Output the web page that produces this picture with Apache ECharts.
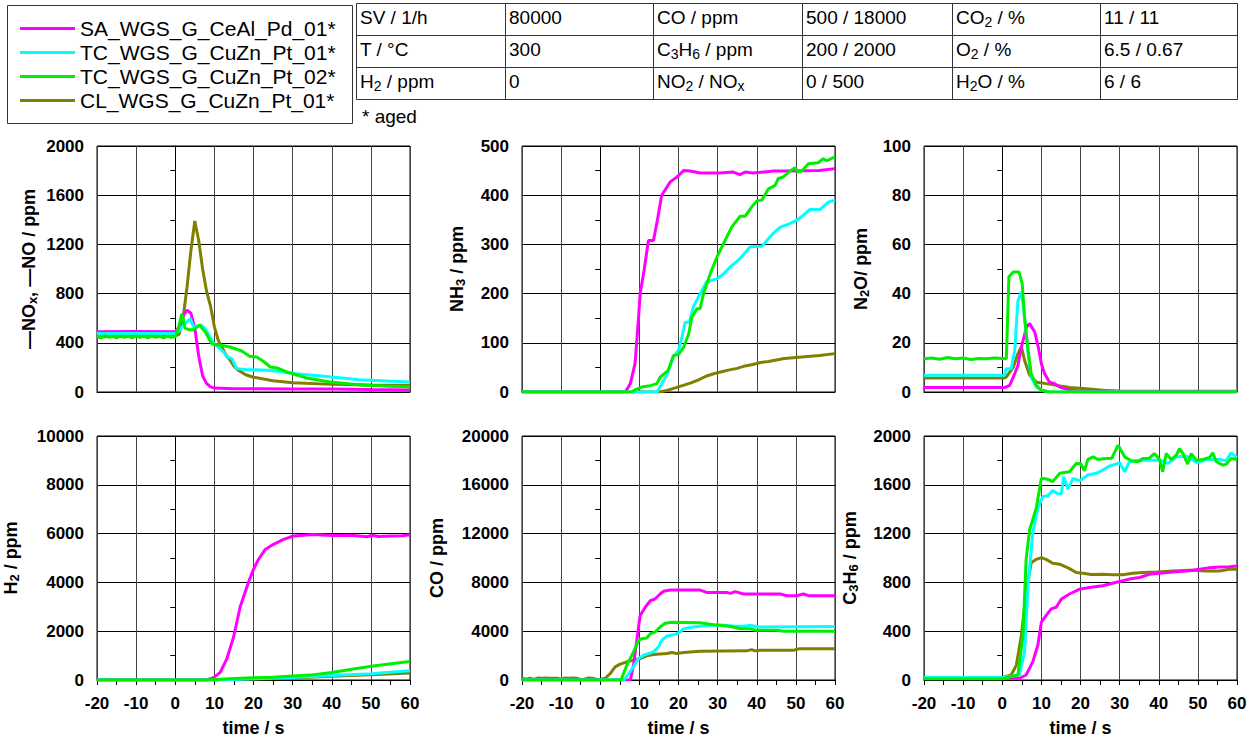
<!DOCTYPE html>
<html>
<head>
<meta charset="utf-8">
<title>WGS catalysts - transient test</title>
<script src="https://cdn.jsdelivr.net/npm/echarts@6.0.0/dist/echarts.min.js"></script>
<style>
  html, body { margin: 0; padding: 0; background: #fff; }
  #chart { width: 1257px; height: 738px; }
</style>
</head>
<body>
<div id="chart"></div>
<script>
const FONT = "'Liberation Sans', Arial, sans-serif"

const seriesNames = ['SA_WGS_G_CeAl_Pd_01*', 'TC_WGS_G_CuZn_Pt_01*', 'TC_WGS_G_CuZn_Pt_02*', 'CL_WGS_G_CuZn_Pt_01*']
const seriesColors = ['#ff00ff', '#00ffff', '#00ee00', '#808000']

// time / s, value  -- NOx panel
const noxSA = [[-20, 490], [-10, 492], [0, 490], [1, 530], [2, 620], [3, 665], [4, 640], [5, 520], [6, 290], [7, 130], [8, 70], [9, 42], [10, 32], [15, 27], [20, 26], [30, 25], [40, 24], [50, 20], [60, 17]]
const noxTC1 = [[-20, 475], [0, 475], [1, 500], [2, 540], [3, 570], [3.8, 596], [4.7, 530], [5.5, 535], [6.5, 545], [7.5, 520], [8.5, 470], [9.8, 395], [11.5, 352], [12.5, 320], [13.2, 285], [14.5, 271], [15.7, 190], [18, 182], [24, 176], [31, 149], [40, 122], [47, 100], [54, 90], [60, 81]]
const noxTC2 = [[-20, 450], [-19, 440], [-18, 460], [-17, 445], [-16, 455], [-15, 440], [-14, 458], [-13, 445], [-12, 455], [-11, 440], [-10, 458], [-9, 445], [-8, 455], [-7, 440], [-6, 458], [-5, 445], [-4, 455], [-3, 440], [-2, 455], [-1, 445], [0, 450], [0.8, 520], [1.7, 637], [2.5, 520], [3.5, 507], [4.7, 507], [6.2, 542], [7.7, 488], [9.3, 393], [11.5, 380], [14, 366], [17, 333], [19, 290], [20.8, 285], [22.5, 250], [24.3, 203], [26, 195], [28.5, 163], [33.6, 114], [39.6, 81], [48, 54], [60, 41]]
const noxCL = [[-20, 450], [0, 455], [1, 470], [2, 600], [3, 850], [4, 1150], [5, 1390], [6, 1230], [7, 1000], [8, 820], [9, 700], [10, 530], [11, 420], [12, 360], [13, 300], [14, 260], [15, 210], [16, 180], [18, 140], [20, 120], [25, 92], [30, 75], [40, 62], [50, 56], [60, 52]]

// NH3 panel
const nh3SA = [[-20, 0], [6.4, 0], [7.7, 17], [8.9, 58], [9.8, 152], [10.2, 200], [11.2, 247], [12.3, 308], [13.6, 308], [14.6, 349], [15.7, 400], [17.9, 427], [19.6, 437], [21.3, 450], [23, 449], [25.5, 445], [30.6, 445], [34, 447], [35.7, 442], [37, 447], [39, 445], [44.3, 449], [47.7, 449], [56, 450], [60, 454]]
const nh3TC1 = [[-20, 0], [14.5, 0], [17, 34], [18.7, 71], [20, 85], [20.9, 112], [21.7, 142], [22.8, 142], [23.8, 173], [25.1, 193], [27.2, 224], [29.8, 230], [31.5, 240], [33.6, 257], [35.7, 271], [38.3, 295], [41.3, 296], [42.6, 308], [44.3, 323], [46, 335], [48.1, 341], [50.2, 349], [51.9, 359], [53.6, 371], [56.2, 371], [58.3, 386], [60, 390]]
const nh3TC2 = [[-20, 0], [8, 0], [9, 5], [10.6, 10], [12.8, 13], [14.5, 17], [15.3, 30], [17.4, 44], [18.7, 74], [20, 76], [21.3, 91], [22.6, 118], [23.4, 152], [24.7, 169], [25.5, 169], [26.4, 200], [28.1, 240], [29.8, 274], [31.9, 308], [33.6, 335], [35.7, 357], [37, 357], [38.7, 376], [40, 388], [41.3, 390], [43, 413], [44.7, 420], [45.5, 434], [46.8, 437], [48.5, 449], [49.8, 456], [50.5, 447], [51.5, 449], [53.2, 464], [55.7, 466], [57, 474], [57.9, 470], [60, 478]]
const nh3CL = [[-20, 0], [15, 0], [17, 3], [19, 8], [21, 13], [23, 18], [25, 24], [27, 32], [29, 37], [31, 41], [33, 45], [35, 48], [37, 53], [39, 56], [41, 60], [43, 62], [45, 65], [47, 68], [50, 70], [53, 72], [56, 74], [60, 78]]

// N2O panel
const n2oSA = [[-20, 1.8], [-10, 1.8], [0.6, 1.8], [1.9, 2.7], [3.2, 7.5], [4, 10.8], [4.9, 18.3], [6.2, 26.4], [7, 27.8], [8.3, 24.4], [9.2, 18.3], [10, 11.5], [10.8, 7.5], [12.1, 4], [13.4, 3.4], [14.7, 2], [17.3, 0.7], [20, 0.3], [60, 0.3]]
const n2oTC1 = [[-20, 6.8], [0.6, 6.8], [1, 9.5], [2.3, 9.5], [3.2, 17], [4, 37], [4.9, 40.7], [5.7, 30.5], [6.6, 15.6], [7.4, 6], [8.7, 2], [10, 0.7], [12, 0], [60, 0]]
const n2oTC2 = [[-20, 13.5], [-18, 13.8], [-16, 13.3], [-14, 14], [-12, 13.5], [-10, 13.8], [-8, 13.2], [-6, 13.6], [-4, 13.5], [-2, 13.8], [1.05, 13.5], [1.7, 46.8], [2.8, 48.8], [4.3, 48.8], [5.1, 44], [5.7, 30.5], [6.6, 17], [7.4, 7.5], [8.7, 2.7], [10, 0.7], [12, 0], [60, 0]]
const n2oCL = [[-20, 5.7], [0.6, 5.7], [1, 6], [2.8, 10], [4, 15.6], [4.9, 18.3], [5.7, 12.9], [7, 6.8], [8.7, 4], [11.3, 3.4], [13.8, 2.7], [17.3, 1.8], [20.7, 1.4], [25.8, 0.7], [30, 0.3], [60, 0.2]]

// H2 panel
const h2SA = [[-20, 0], [8, 0], [9.8, 95], [11.5, 312], [13.2, 880], [14.9, 1750], [16.6, 3000], [18.7, 4000], [20, 4540], [21.3, 4950], [23, 5350], [25.1, 5560], [27.7, 5760], [30.2, 5900], [32.8, 5935], [35.3, 5960], [40.4, 5920], [44.7, 5930], [47, 5900], [49, 5870], [50.5, 5930], [52, 5880], [55, 5900], [58, 5910], [60, 5950]]
const h2TC1 = [[-20, 0], [10, 0], [20, 50], [30, 100], [40, 180], [50, 260], [60, 380]]
const h2TC2 = [[-20, 0], [8, 0], [15, 60], [20, 90], [25, 110], [30, 160], [34.5, 200], [40, 310], [45.5, 450], [50.6, 570], [55.7, 680], [60, 760]]
const h2CL = [[-20, 0], [10, 0], [20, 40], [30, 80], [40, 150], [50, 220], [60, 290]]

// CO panel
const coSA = [[-20, 0], [7.7, 0], [8.5, 1220], [9.4, 3390], [10.2, 5290], [11.5, 5960], [12.8, 6500], [14, 6640], [15.3, 7050], [16.2, 7270], [17.9, 7370], [25.5, 7370], [27.2, 7180], [32.3, 7180], [33.2, 7100], [34.5, 7240], [36.6, 7050], [46, 7050], [47.7, 6910], [50.2, 6910], [51.9, 7050], [53.2, 6910], [60, 6910]]
const coTC1 = [[-20, 0], [6, 0], [7, 400], [8.5, 1100], [9.8, 1760], [11.1, 2030], [13.6, 2300], [14.9, 2710], [15.7, 3250], [17, 3600], [19.1, 3740], [20.4, 3930], [21.3, 4200], [23.8, 4340], [27.2, 4470], [29.8, 4530], [34, 4420], [36.6, 4400], [38.3, 4470], [40.9, 4340], [60, 4390]]
const coTC2 = [[-20, 0], [5.3, 0], [6.8, 1220], [8.5, 2300], [9.8, 3250], [10.6, 3390], [11.9, 3440], [12.8, 3800], [14, 3930], [15.3, 4340], [16.6, 4660], [18.3, 4740], [25.5, 4690], [28.9, 4530], [32.3, 4420], [34, 4340], [35.7, 4200], [38.3, 4200], [40, 4070], [45.1, 4070], [46.8, 3990], [60, 3990]]
const coCL = [[-20, 150], [-19, 60], [-18, 150], [-17, 40], [-16, 160], [-15, 150], [-14, 160], [-13, 150], [-12, 150], [-11, 140], [-10, 60], [-9, 160], [-8, 150], [-7, 160], [-6, 150], [-5, 40], [-4, 60], [-3, 160], [-2, 150], [-1, 60], [0, 50], [1.3, 140], [2.6, 540], [3.8, 1080], [5.1, 1300], [6.8, 1490], [8.5, 1630], [10.2, 1760], [11.9, 1980], [13.6, 2090], [17, 2170], [18.3, 2250], [19.5, 2170], [21.3, 2250], [25.5, 2360], [37.4, 2390], [38.7, 2490], [39.6, 2390], [40.9, 2440], [49.4, 2440], [51, 2570], [60, 2570]]

// C3H6 panel
const c3h6SA = [[-20, 20], [0, 20], [4.4, 14], [6.1, 41], [7.8, 149], [9.1, 285], [10, 474], [11.2, 528], [12.5, 583], [13.8, 596], [15.1, 664], [17.2, 705], [19.8, 745], [22.3, 759], [25.7, 772], [27.9, 791], [30, 808], [32.5, 827], [35.1, 840], [37.6, 867], [40.2, 875], [43.6, 886], [47, 894], [50.4, 908], [53, 921], [55.5, 927], [58.1, 929], [60, 935]]
const c3h6TC1 = [[-20, 20], [0, 20], [4.4, 41], [5.7, 230], [6.6, 772], [7.8, 1206], [9.1, 1409], [10.4, 1504], [11.7, 1510], [12.9, 1553], [14.2, 1526], [15.1, 1526], [15.7, 1667], [16.8, 1564], [18.1, 1653], [19.8, 1634], [21.9, 1680], [24, 1694], [25.7, 1721], [27.4, 1753], [30, 1780], [31.3, 1707], [32.5, 1789], [35.1, 1802], [40.2, 1802], [42.3, 1775], [44.5, 1829], [47, 1835], [50, 1780], [52.1, 1808], [55.5, 1808], [57.2, 1797], [58.5, 1862], [60, 1824]]
const c3h6TC2 = [[-20, 10], [0, 10], [4, 41], [5.3, 366], [6.1, 989], [7, 1233], [8.7, 1409], [10, 1653], [11.7, 1645], [12.9, 1626], [14.7, 1694], [17.2, 1707], [18.9, 1775], [20, 1775], [21, 1715], [21.9, 1808], [23.2, 1829], [24.4, 1808], [26.6, 1816], [28, 1818], [29.6, 1924], [31.3, 1829], [33, 1797], [34.7, 1789], [35.9, 1816], [37.5, 1816], [38.9, 1856], [40.2, 1808], [41, 1707], [41.9, 1856], [43.2, 1808], [44.5, 1843], [45.3, 1897], [46.2, 1856], [47.4, 1770], [48.3, 1856], [49.6, 1802], [51.3, 1808], [53, 1824], [53.8, 1862], [54.7, 1789], [56.4, 1761], [57.3, 1770], [58.5, 1816], [60, 1808]]
const c3h6CL = [[-20, 20], [0, 20], [2.3, 41], [3.6, 122], [4.9, 366], [6.1, 718], [7.4, 962], [8.7, 989], [10, 1003], [11.2, 989], [12.9, 957], [14.7, 949], [17.2, 913], [18.9, 881], [20.6, 875], [22.7, 865], [25.7, 867], [28.3, 862], [30.8, 862], [33.4, 875], [35.9, 881], [39.4, 886], [43.6, 894], [47.9, 900], [52.1, 894], [55.5, 894], [58.1, 908], [60, 908]]

const yNames = [
  '\u2014NO{sub|x}, \u2014NO / ppm',
  'NH{sub|3} / ppm',
  'N{sub|2}O/ ppm',
  'H{sub|2} / ppm',
  'CO / ppm',
  'C{sub|3}H{sub|6} / ppm'
]
const yMax = [2000, 500, 100, 10000, 20000, 2000]
const yInterval = [400, 100, 20, 2000, 4000, 400]
const panelData = [
  [noxSA, noxTC1, noxTC2, noxCL],
  [nh3SA, nh3TC1, nh3TC2, nh3CL],
  [n2oSA, n2oTC1, n2oTC2, n2oCL],
  [h2SA, h2TC1, h2TC2, h2CL],
  [coSA, coTC1, coTC2, coCL],
  [c3h6SA, c3h6TC1, c3h6TC2, c3h6CL]
]
const xTicks = { min: -20, max: 60, interval: 10 }

// conditions table
const tableText = [
  ['SV / 1/h', '80000', 'CO / ppm', '500 / 18000', 'CO{sub|2} / %', '11 / 11'],
  ['T / \u00b0C', '300', 'C{sub|3}H{sub|6} / ppm', '200 / 2000', 'O{sub|2} / %', '6.5 / 0.67'],
  ['H{sub|2} / ppm', '0', 'NO{sub|2} / NO{sub|x}', '0 / 500', 'H{sub|2}O / %', '6 / 6']
]

const gridLeft = [97, 522, 924]
const gridTop = [146, 436]
const gridW = 313
const gridH = 246
const nameGaps = [58, 55, 53, 76, 76, 64]
const drawOrder = [3, 0, 1, 2]

const chart = echarts.init(document.getElementById('chart'), null, { renderer: 'svg' })

const labelFont = { fontSize: 17, fontWeight: 'bold', fontFamily: FONT, color: '#000' }
const plain = v => String(v)

const grids = []
const xAxes = []
const yAxes = []
const series = []

for (let p = 0; p < 6; p++) {
  const row = Math.floor(p / 3)
  const col = p % 3
  grids.push({
    left: gridLeft[col],
    top: gridTop[row],
    width: gridW,
    height: gridH,
    show: true,
    borderColor: '#000',
    borderWidth: 1
  })
  xAxes.push({
    gridIndex: p,
    type: 'value',
    min: xTicks.min,
    max: xTicks.max,
    interval: xTicks.interval,
    name: row === 1 ? 'time / s' : '',
    nameLocation: 'middle',
    nameGap: 39,
    nameTextStyle: { fontSize: 18, fontWeight: 'bold', fontFamily: FONT, color: '#000' },
    axisLine: { lineStyle: { color: '#000', width: 1 } },
    axisTick: { show: row === 1, length: 5, lineStyle: { color: '#000' } },
    minorTick: { show: row === 1, splitNumber: 2, length: 5, lineStyle: { color: '#000' } },
    axisLabel: Object.assign({ show: row === 1, margin: 15, formatter: plain }, labelFont),
    splitLine: { show: true, lineStyle: { color: '#444', width: 1 } }
  })
  yAxes.push({
    gridIndex: p,
    type: 'value',
    min: 0,
    max: yMax[p],
    interval: yInterval[p],
    name: yNames[p],
    nameLocation: 'middle',
    nameRotate: 90,
    nameGap: nameGaps[p],
    nameTextStyle: {
      fontSize: 18,
      fontWeight: 'bold',
      fontFamily: FONT,
      color: '#000',
      rich: {
        sub: { fontSize: 13, fontWeight: 'bold', fontFamily: FONT, color: '#000', padding: [8, 0, 0, 0] }
      }
    },
    axisLine: { show: true, lineStyle: { color: '#000', width: 1 } },
    axisTick: { show: true, length: 5, lineStyle: { color: '#000' } },
    minorTick: { show: true, splitNumber: 2, length: 5, lineStyle: { color: '#000' } },
    axisLabel: Object.assign({ margin: 13, formatter: plain }, labelFont),
    splitLine: { show: true, lineStyle: { color: '#000', width: 1 } }
  })
  drawOrder.forEach(s => {
    series.push({
      name: seriesNames[s],
      type: 'line',
      xAxisIndex: p,
      yAxisIndex: p,
      data: panelData[p][s],
      showSymbol: false,
      symbol: 'none',
      color: seriesColors[s],
      lineStyle: { color: seriesColors[s], width: 3 },
      animation: false,
      silent: true
    })
  })
}

// table cells and box around the legend
const colX = [356, 505, 653, 802, 952, 1100, 1237]
const rowY = [3, 35, 67, 99]
const graphics = [{
  type: 'rect',
  shape: { x: 7.5, y: 5.5, width: 345, height: 118 },
  style: { fill: 'none', stroke: '#333', lineWidth: 1 }
}]
tableText.forEach((cells, r) => {
  cells.forEach((txt, c) => {
    const x = colX[c]
    const y = rowY[r]
    const w = colX[c + 1] - x
    const h = rowY[r + 1] - y
    graphics.push({
      type: 'rect',
      shape: { x: x + 0.5, y: y + 0.5, width: w, height: h },
      style: { fill: 'none', stroke: '#333', lineWidth: 1 }
    })
    graphics.push({
      type: 'text',
      x: x + 4,
      y: y + h / 2 - 2,
      style: {
        text: txt,
        fontSize: 19,
        fontFamily: FONT,
        fill: '#000',
        verticalAlign: 'middle',
        rich: {
          sub: { fontSize: 14, fontFamily: FONT, fill: '#000', padding: [9, 0, 0, 0] }
        }
      }
    })
  })
})
graphics.push({
  type: 'text',
  x: 362,
  y: 116,
  style: { text: '* aged', fontSize: 19, fontFamily: FONT, fill: '#000', verticalAlign: 'middle' }
})

chart.setOption({
  animation: false,
  backgroundColor: '#fff',
  legend: {
    data: seriesNames,
    orient: 'vertical',
    left: 15,
    top: 13,
    icon: 'rect',
    itemWidth: 55,
    itemHeight: 3,
    itemGap: 3,
    selectedMode: false,
    textStyle: { fontSize: 21, lineHeight: 20, fontFamily: FONT, color: '#000' }
  },
  grid: grids,
  xAxis: xAxes,
  yAxis: yAxes,
  series: series,
  graphic: graphics
})
</script>
</body>
</html>
